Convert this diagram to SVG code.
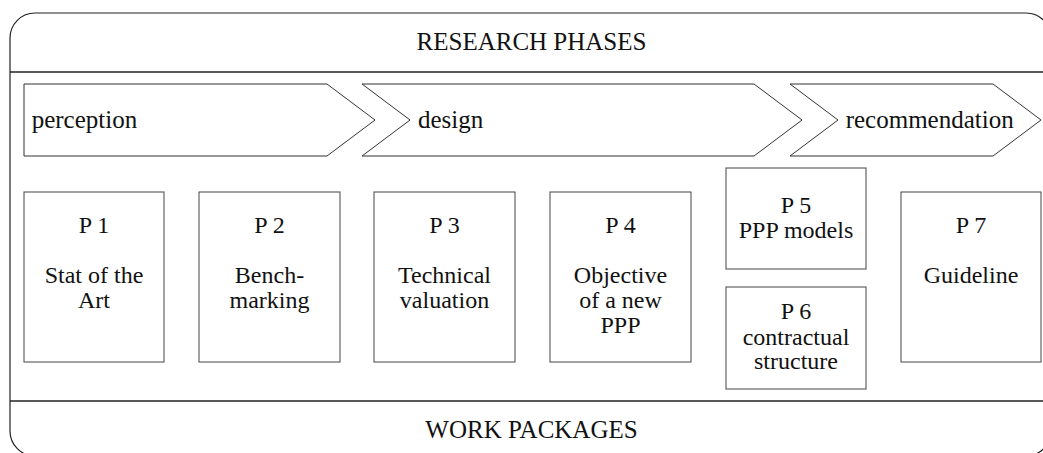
<svg xmlns="http://www.w3.org/2000/svg" width="1043" height="453" viewBox="0 0 1043 453">
<style>
.frame{fill:none;stroke:#222;stroke-width:1.2}
.sep{fill:none;stroke:#222;stroke-width:1.5}
.arrow{fill:#fff;stroke:#333;stroke-width:1}
.box{fill:#fff;stroke:#444;stroke-width:1}
text{font-family:"Liberation Serif","Times New Roman",serif;font-size:25px;fill:#111}
.c{text-anchor:middle}
.b{font-size:24px}
</style>
<rect width="1043" height="453" fill="#fff"/>
<g id="frame">
<rect class="frame" x="10" y="13" width="1041" height="443" rx="25" ry="25"/>
<line class="sep" x1="10" y1="72" x2="1051" y2="72"/>
<line class="sep" x1="10" y1="401" x2="1051" y2="401"/>
<text class="c" x="531.5" y="50">RESEARCH PHASES</text>
<text class="c" x="531.5" y="438">WORK PACKAGES</text>
</g>
<g id="phase-perception">
<polygon class="arrow" points="24,84 327,84 375,120 327,156 24,156"/>
<text x="31.7" y="128.3">perception</text>
</g>
<g id="phase-design">
<polygon class="arrow" points="362,84 754,84 802,120 754,156 362,156 410,120"/>
<text x="418" y="128.3">design</text>
</g>
<g id="phase-recommendation">
<polygon class="arrow" points="790,84 993,84 1041,120 993,156 790,156 838,120"/>
<text x="845.7" y="128.3">recommendation</text>
</g>
<g id="P1">
<rect class="box" x="24" y="192" width="140" height="170"/>
<text class="c b" x="94" y="233">P 1</text>
<text class="c b" x="94" y="283">Stat of the</text>
<text class="c b" x="94" y="308">Art</text>
</g>
<g id="P2">
<rect class="box" x="199" y="192" width="141" height="170"/>
<text class="c b" x="269.5" y="233">P 2</text>
<text class="c b" x="269.5" y="283">Bench-</text>
<text class="c b" x="269.5" y="308">marking</text>
</g>
<g id="P3">
<rect class="box" x="374" y="192" width="141" height="170"/>
<text class="c b" x="444.5" y="233">P 3</text>
<text class="c b" x="444.5" y="283">Technical</text>
<text class="c b" x="444.5" y="308">valuation</text>
</g>
<g id="P4">
<rect class="box" x="550" y="192" width="141" height="170"/>
<text class="c b" x="620.5" y="233">P 4</text>
<text class="c b" x="620.5" y="283">Objective</text>
<text class="c b" x="620.5" y="308">of a new</text>
<text class="c b" x="620.5" y="333">PPP</text>
</g>
<g id="P5">
<rect class="box" x="726" y="168" width="140" height="101"/>
<text class="c b" x="796" y="213">P 5</text>
<text class="c b" x="796" y="238">PPP models</text>
</g>
<g id="P6">
<rect class="box" x="726" y="287" width="140" height="102"/>
<text class="c b" x="796" y="319">P 6</text>
<text class="c b" x="796" y="345">contractual</text>
<text class="c b" x="796" y="369">structure</text>
</g>
<g id="P7">
<rect class="box" x="901" y="192" width="140" height="170"/>
<text class="c b" x="971" y="233">P 7</text>
<text class="c b" x="971" y="283">Guideline</text>
</g>
<g id="connectors"/>
</svg>
